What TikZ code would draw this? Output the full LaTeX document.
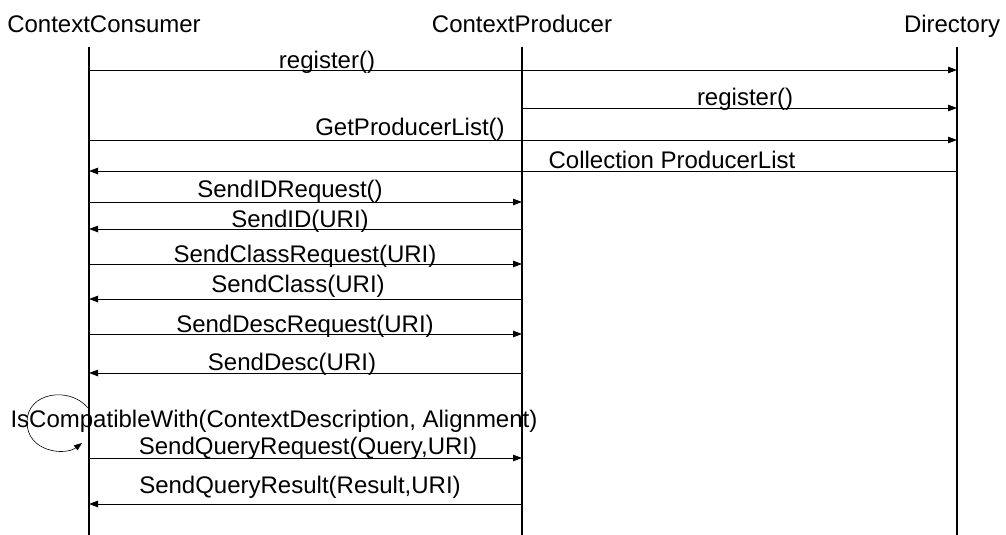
\documentclass[tikz,border=0pt]{standalone}
\usepackage{fontspec}
\setmainfont{Liberation Sans}
\usetikzlibrary{arrows.meta}
\begin{document}
\begin{tikzpicture}[x=1pt,y=-1pt,
  head/.style={anchor=base,inner sep=0pt,font=\fontsize{24}{28}\selectfont},
  lbl/.style={anchor=base,inner sep=0pt,font=\fontsize{24}{28}\selectfont},
  life/.style={line width=1.8pt},
  msg/.style={line width=0.9pt,-{Triangle[length=9pt,width=6.5pt]}},
  loopline/.style={line width=0.6pt,-{Triangle[length=8pt,width=6pt]}}]
\useasboundingbox (0,0) rectangle (1006,535);
% heads
\node[head] (hc) at (104,33) {ContextConsumer};
\node[head] (hp) at (522,33) {ContextProducer};
\node[head] (hd) at (952,33) {Directory};
% lifelines
\coordinate (c) at (89,47);
\coordinate (p) at (522,47);
\coordinate (d) at (957,47);
\coordinate (cb) at (89,535);
\coordinate (pb) at (522,535);
\coordinate (db) at (957,535);
\draw[life] (c) -- (cb);
\draw[life] (p) -- (pb);
\draw[life] (d) -- (db);
% messages
\draw[msg] (c |- 0,70) -- (d |- 0,70);
\node[lbl] (m1) at (327,69) {register()};
\draw[msg] (p |- 0,108) -- (d |- 0,108);
\node[lbl] (m2) at (745,105) {register()};
\draw[msg] (c |- 0,140) -- (d |- 0,140);
\node[lbl] (m3) at (410,135) {GetProducerList()};
\draw[msg] (d |- 0,171) -- (c |- 0,171);
\node[lbl] (m4) at (672,168) {Collection ProducerList};
\draw[msg] (c |- 0,202) -- (p |- 0,202);
\node[lbl] (m5) at (290,197) {SendIDRequest()};
\draw[msg] (p |- 0,229) -- (c |- 0,229);
\node[lbl] (m6) at (300,227) {SendID(URI)};
\draw[msg] (c |- 0,264) -- (p |- 0,264);
\node[lbl] (m7) at (305,262) {SendClassRequest(URI)};
\draw[msg] (p |- 0,299) -- (c |- 0,299);
\node[lbl] (m8) at (298,292) {SendClass(URI)};
\draw[msg] (c |- 0,334) -- (p |- 0,334);
\node[lbl] (m9) at (305,332) {SendDescRequest(URI)};
\draw[msg] (p |- 0,373) -- (c |- 0,373);
\node[lbl] (m10) at (292,370) {SendDesc(URI)};
% self message
\coordinate (ls) at (88,408);
\coordinate (le) at (82,443);
\draw[loopline] (ls) .. controls (70,386) and (27,392) .. (27,422) .. controls (27,452) and (65,456) .. (le);
\node[lbl] (m11) at (274,427) {IsCompatibleWith(ContextDescription, Alignment)};
\draw[msg] (c |- 0,458) -- (p |- 0,458);
\node[lbl] (m12) at (308,454) {SendQueryRequest(Query,URI)};
\draw[msg] (p |- 0,504) -- (c |- 0,504);
\node[lbl] (m13) at (300,493) {SendQueryResult(Result,URI)};
\end{tikzpicture}
\end{document}
